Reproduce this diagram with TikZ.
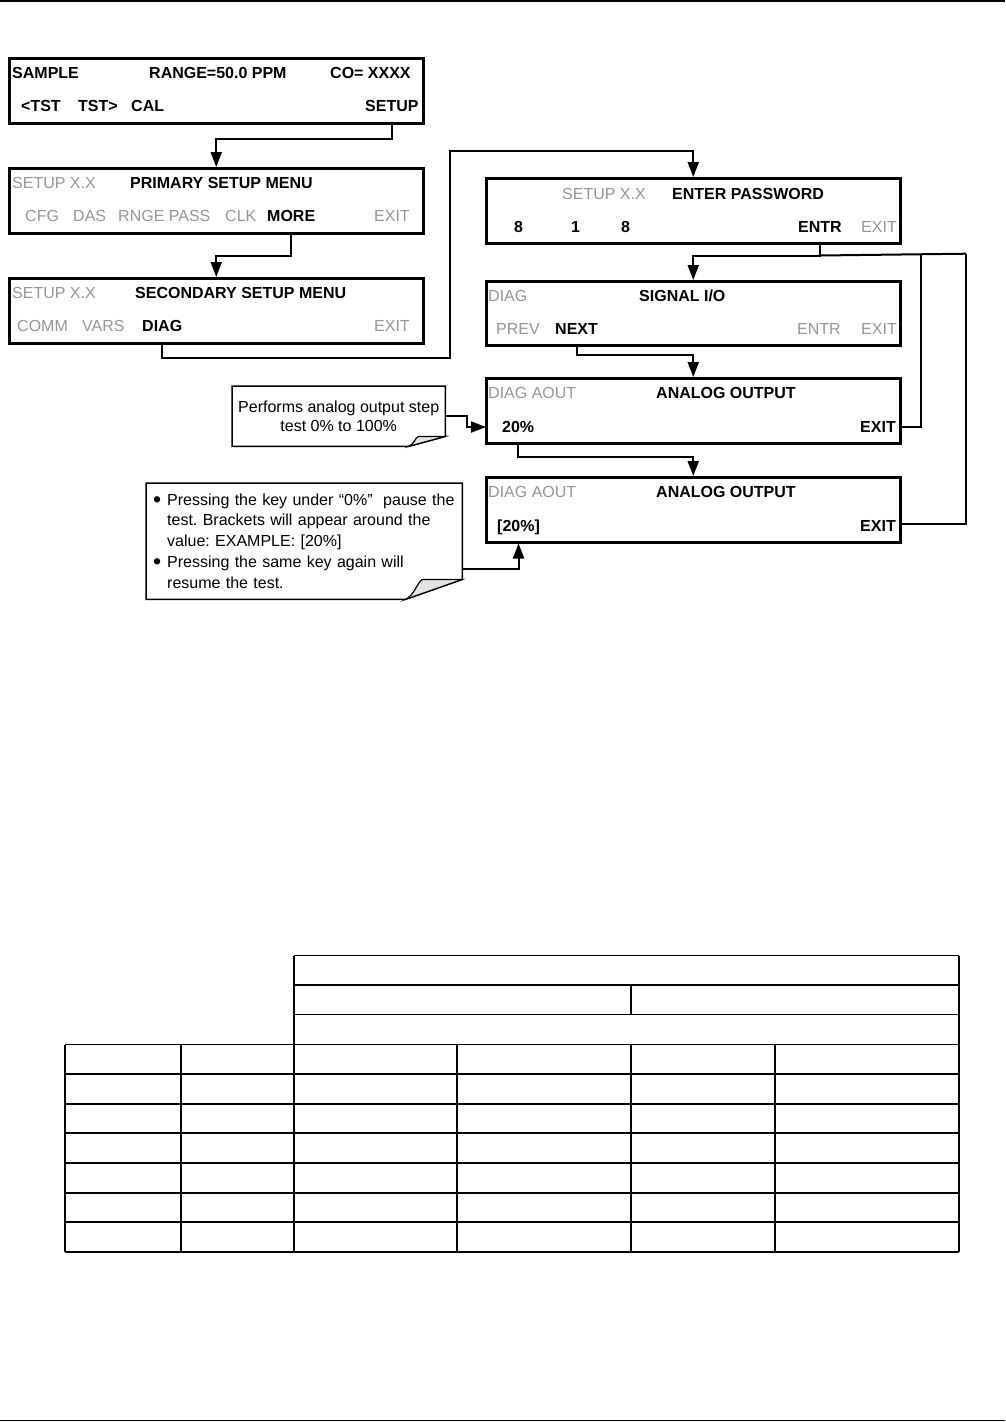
\documentclass[tikz,border=0pt]{standalone}
\usepackage{fontspec}
\setmainfont{Liberation Sans}
\usetikzlibrary{arrows.meta,calc}
\definecolor{lcdgray}{RGB}{150,150,150}
\definecolor{foldgray}{RGB}{228,228,228}
\newcommand{\bigbul}{\raisebox{-2pt}{\scalebox{1.45}{\textbullet}}}
\begin{document}
\frenchspacing
\begin{tikzpicture}[x=1pt,y=-1pt,
  every node/.style={font=\fontsize{16}{19}\selectfont},
  lcdbox/.style={draw, line width=2.5pt, rectangle, minimum width=414pt, minimum height=65pt, anchor=north west, inner sep=0pt},
  kb/.style={anchor=base west, inner sep=0pt, font=\fontsize{16}{19}\selectfont\bfseries},
  kg/.style={anchor=base west, inner sep=0pt, text=lcdgray},
  conn/.style={line width=2pt},
  arr/.style={line width=2pt, -{Triangle[length=15pt,width=11pt]}},
  cline/.style={line width=1.5pt, line join=miter},
  fold/.style={line width=1.2pt, fill=foldgray},
  tbl/.style={line width=1.3pt},
  rule/.style={line width=1.6pt}]
\useasboundingbox (0,0) rectangle (1005,1422);

% page rules
\draw[rule] (0,0.8) -- (1005,0.8);
\draw[rule] (0,1420.5) -- (1005,1420.5);

% ---------- left column ----------
\node[lcdbox] (b1) at (8,57) {};
\node[kb] (sample) at (12,78) {SAMPLE};
\node[kb] (range) at (149,78) {RANGE=50.0 PPM};
\node[kb] (co) at (330,78) {CO= XXXX};
\node[kb] (tstl) at (21,111) {<TST};
\node[kb] (tstr) at (78,111) {TST>};
\node[kb] (cal) at (131,111) {CAL};
\node[kb] (setupk) at (365,111) {SETUP};

\node[lcdbox] (b2) at (8,167) {};
\node[kg] (s2) at (12,188) {SETUP X.X};
\node[kb] (prim) at (130,188) {PRIMARY SETUP MENU};
\node[kg] (cfg) at (25,221) {CFG};
\node[kg] (das) at (73,221) {DAS};
\node[kg] (rnge) at (118,221) {RNGE PASS};
\node[kg] (clk) at (225,221) {CLK};
\node[kb] (morek) at (267,221) {MORE};
\node[kg] (exit2) at (374,221) {EXIT};

\node[lcdbox] (b3) at (8,277) {};
\node[kg] (s3) at (12,298) {SETUP X.X};
\node[kb] (sec) at (135,298) {SECONDARY SETUP MENU};
\node[kg] (comm) at (17,331) {COMM};
\node[kg] (vars) at (82,331) {VARS};
\node[kb] (diagk) at (142,331) {DIAG};
\node[kg] (exit3) at (374,331) {EXIT};

% ---------- right column ----------
\node[lcdbox] (b4) at (485,177) {};
\node[kg] (s4) at (562,199) {SETUP X.X};
\node[kb] (pw) at (672,199) {ENTER PASSWORD};
\node[kb] (d1) at (514,232) {8};
\node[kb] (d2) at (571,232) {1};
\node[kb] (d3) at (621,232) {8};
\node[kb] (entrk) at (798,232) {ENTR};
\node[kg] (exit4) at (861,232) {EXIT};

\node[lcdbox, minimum height=64pt] (b5) at (485,280) {};
\node[kg] (diag5) at (488,301) {DIAG};
\node[kb] (sio) at (639,301) {SIGNAL I/O};
\node[kg] (prev) at (496,334) {PREV};
\node[kb] (nextk) at (555,334) {NEXT};
\node[kg] (entr5) at (797,334) {ENTR};
\node[kg] (exit5) at (861,334) {EXIT};

\node[lcdbox] (b6) at (485,377) {};
\node[kg] (aout6) at (488,398) {DIAG AOUT};
\node[kb] (ao6) at (656,398) {ANALOG OUTPUT};
\node[kb] (p20) at (502,432) {20\%};
\node[kb] (exit6) at (860,432) {EXIT};

\node[lcdbox] (b7) at (485,476) {};
\node[kg] (aout7) at (488,497) {DIAG AOUT};
\node[kb] (ao7) at (656,497) {ANALOG OUTPUT};
\node[kb] (p20b) at (497,531) {[20\%]};
\node[kb] (exit7) at (860,531) {EXIT};

% ---------- connectors ----------
\draw[arr] (setupk |- b1.south) -- ++(0,14) -| (b2.north);
\draw[arr] (morek |- b2.south) -- ++(0,21) -| (b3.north);

\coordinate (j1) at (450,358);
\coordinate (j2) at (450,151);
\draw[arr] (diagk |- b3.south) |- (j1) -- (j2) -| (b4.north);

\draw[arr] (entrk |- b4.south) -- ++(0,11) coordinate (j3) -| (b5.north);
\coordinate (j4) at (921,253.7);
\coordinate (j5) at (966,253.7);
\draw[conn] (j3) -- (j5);
\coordinate (e6) at (899,426.5);
\coordinate (e7) at (899,524);
\draw[conn] (e6) -| (j4);
\draw[conn] (e7) -| (j5);

\draw[arr] (nextk |- b5.south) -- ++(0,8) -| (b6.north);
\draw[arr] (p20 |- b6.south) -- ++(0,12) -| (b7.north);

% ---------- callouts ----------
\node[minimum width=213pt, minimum height=60pt, anchor=north west, inner sep=0pt, align=center, font=\fontsize{16}{19.5}\selectfont] (c1) at (232,386)
  {Performs analog output step\\test 0\% to 100\%};
\draw[cline] (c1.north west) -- (c1.north east) -- ($(c1.south east)+(0,-10)$)
  -- ($(c1.south east)+(-37,0)$) -- (c1.south west) -- cycle;
\filldraw[fold] ($(c1.south east)+(-37,0)$) .. controls ($(c1.south east)+(-31,-2)$) and ($(c1.south east)+(-31,-8)$) .. ($(c1.south east)+(-27,-10)$)
  -- ($(c1.south east)+(0,-10)$) -- cycle;
\coordinate (t1) at (486,427);
\draw[arr] (c1.east) -- ++(22,0) |- (t1);

\node[minimum width=316pt, minimum height=116pt, anchor=north west, inner xsep=7pt, inner ysep=0pt, text width=302pt, align=left, font=\fontsize{16}{20.3}\selectfont] (c2) at (146,483)
  {\makebox[14pt][l]{\bigbul}Pressing the key under “0\%”\ \ pause the\\
   \hspace*{14pt}test. Brackets will appear around the\\
   \hspace*{14pt}value: EXAMPLE: [20\%]\\[1.5pt]
   \makebox[14pt][l]{\bigbul}Pressing the same key again will\\
   \hspace*{14pt}resume the test.};
\draw[cline] (c2.north west) -- (c2.north east) -- ($(c2.south east)+(0,-20)$)
  -- ($(c2.south east)+(-57,0)$) -- (c2.south west) -- cycle;
\filldraw[fold] ($(c2.south east)+(-57,0)$) .. controls ($(c2.south east)+(-48,-4)$) and ($(c2.south east)+(-46,-16)$) .. ($(c2.south east)+(-40,-20)$)
  -- ($(c2.south east)+(0,-20)$) -- cycle;
\coordinate (s2o) at ($(c2.south east)+(0,-30)$);
\draw[arr] (s2o) -| (p20b |- b7.south);

% ---------- table ----------
\foreach \yy in {955.5,985,1014.5} \draw[tbl] (294,\yy) -- (959,\yy);
\foreach \yy in {1044.5,1074,1104,1133,1163,1193,1222,1252} \draw[tbl] (65,\yy) -- (959,\yy);
\draw[tbl] (294,955.5) -- (294,1252);
\draw[tbl] (959,955.5) -- (959,1252);
\draw[tbl] (631,985) -- (631,1014.5);
\foreach \xx in {65,181,457,631,775} \draw[tbl] (\xx,1044.5) -- (\xx,1252);
\end{tikzpicture}
\end{document}
